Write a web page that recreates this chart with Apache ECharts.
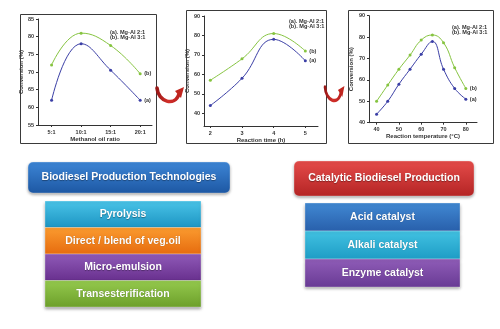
<!DOCTYPE html>
<html>
<head>
<meta charset="utf-8">
<script src="https://cdn.jsdelivr.net/npm/echarts@6/dist/echarts.min.js"></script>
<style>
  html, body { margin: 0; padding: 0; background: #ffffff; }
  #chart { width: 500px; height: 329px; }
</style>
</head>
<body>
<div id="chart"></div>
<script>
// Conversion (%) versus methanol:oil ratio
const ratioX = [5, 10, 15, 20];
const ratioA = [62, 78, 70.5, 62];
const ratioB = [72, 81, 77.5, 69.5];
const ratioXTicks = [5, 10, 15, 20];

// Conversion (%) versus reaction time (h)
const timeX = [2, 3, 4, 5];
const timeA = [44, 58, 78, 67];
const timeB = [57, 68, 81, 72];
const timeXTicks = [2, 3, 4, 5];
const timeYTicks = [40, 50, 60, 70, 80, 90];

// Conversion (%) versus reaction temperature (°C)
const tempX = [40, 45, 50, 55, 60, 65, 70, 75, 80];
const tempA = [44, 50, 58, 65, 72, 78, 65, 56, 51];
const tempB = [50, 57.6, 65, 71.6, 78.6, 81, 77.4, 65.7, 56];
const tempXTicks = [40, 50, 60, 70, 80];

const legendLines = ['(a). Mg-Al 2:1', '(b). Mg-Al 3:1'];
const endTags = ['(a)', '(b)'];

const technologies = ['Pyrolysis', 'Direct / blend of veg.oil', 'Micro-emulsion', 'Transesterification'];
const catalysts = ['Acid catalyst', 'Alkali catalyst', 'Enzyme catalyst'];

const FONT = '"Liberation Sans", Arial, sans-serif';
const BLUE = '#3b3fa6';
const GREEN = '#86c440';
const AXIS = '#333333';

function zip(xs, ys) { return xs.map((x, i) => [x, ys[i]]); }

function xAxisFor(gridIndex, min, max, ticks, fmt, name, gap) {
  return {
    type: 'value', gridIndex, min, max,
    name, nameLocation: 'middle', nameGap: gap,
    nameTextStyle: { fontSize: 6, fontWeight: 'bold', color: '#333', fontFamily: FONT },
    axisLine: { show: true, onZero: false, lineStyle: { color: AXIS, width: 1 } },
    axisTick: { show: true, length: 2, customValues: ticks, lineStyle: { color: AXIS } },
    axisLabel: { customValues: ticks, formatter: fmt, fontSize: 5.5, margin: 4, color: '#333', fontWeight: 'bold', fontFamily: FONT },
    splitLine: { show: false }
  };
}

function yAxisFor(gridIndex, min, max, ticks, gap) {
  return {
    type: 'value', gridIndex, min, max,
    name: 'Conversion (%)', nameLocation: 'middle', nameGap: gap, nameRotate: 90,
    nameTextStyle: { fontSize: 6, fontWeight: 'bold', color: '#333', fontFamily: FONT },
    axisLine: { show: true, onZero: false, lineStyle: { color: AXIS, width: 1 } },
    axisTick: { show: true, length: 2, customValues: ticks, lineStyle: { color: AXIS } },
    axisLabel: { customValues: ticks, fontSize: 5.5, margin: 4, color: '#333', fontWeight: 'bold', fontFamily: FONT },
    splitLine: { show: false }
  };
}

function curve(idx, xs, ys, color, tag) {
  return {
    type: 'line', xAxisIndex: idx, yAxisIndex: idx,
    data: zip(xs, ys), smooth: 0.45,
    symbol: 'circle', symbolSize: 3,
    lineStyle: { color, width: 1 },
    itemStyle: { color },
    endLabel: { show: true, formatter: tag, fontSize: 5.5, fontWeight: 'bold', color: '#333', distance: 4, fontFamily: FONT }
  };
}

function yTicks(min, max, step) {
  const out = [];
  for (let v = min; v <= max; v += step) out.push(v);
  return out;
}

function vGrad(top, bottom) {
  return { type: 'linear', x: 0, y: 0, x2: 0, y2: 1, colorStops: [
    { offset: 0, color: top }, { offset: 1, color: bottom }
  ] };
}

const graphics = [];

// frames around the three small plots
[[20, 14, 136, 129], [186, 10, 140, 133], [348, 10, 145, 133]].forEach(([x, y, w, h]) => {
  graphics.push({ type: 'rect', shape: { x: x + 0.5, y: y + 0.5, width: w, height: h },
    style: { fill: 'none', stroke: '#3a3a3a', lineWidth: 1 }, z: 1 });
});

// legend text inside each plot
[[110, 29], [289, 18], [452, 24]].forEach(([x, y]) => {
  legendLines.forEach((t, i) => {
    graphics.push({ type: 'text', x, y: y + i * 5.5,
      style: { text: t, fontSize: 5.6, fontWeight: 'bold', fill: '#333', fontFamily: FONT, verticalAlign: 'top' }, z: 5 });
  });
});

// curved red arrows linking the plots
function arrow(ox, oy, s) {
  const grad = { type: 'linear', x: 0, y: 0, x2: 1, y2: 0, colorStops: [
    { offset: 0, color: '#8e1212' }, { offset: 0.5, color: '#d2302a' }, { offset: 1, color: '#b61e1e' }
  ] };
  graphics.push({ type: 'bezierCurve', x: ox, y: oy, scaleX: s, scaleY: 1,
    shape: { x1: 0, y1: 0, cpx1: 1, cpy1: 14, cpx2: 18, cpy2: 19, x2: 22, y2: 6 },
    style: { fill: null, stroke: grad, lineWidth: 3.6, lineCap: 'round' }, z: 6 });
  graphics.push({ type: 'polygon', x: ox, y: oy, scaleX: s, scaleY: 1,
    shape: { points: [[27, -1], [18, 3], [24, 10]] },
    style: { fill: '#c0261f' }, z: 6 });
}
arrow(157, 88, 1);
arrow(325, 87, 0.72);

// stacked label boxes
function box(x, y, w, h, top, bottom, label, r) {
  graphics.push({ type: 'rect', shape: { x, y, width: w, height: h, r: r || 0 },
    style: { fill: vGrad(top, bottom), shadowBlur: 3, shadowOffsetY: 1.5, shadowColor: 'rgba(0,0,0,0.35)',
      stroke: 'rgba(255,255,255,0.35)', lineWidth: 0.8 }, z: 3 });
  graphics.push({ type: 'text', x: x + w / 2, y: y + h / 2,
    style: { text: label, fontSize: 10.5, fontWeight: 'bold', fill: '#ffffff', fontFamily: FONT,
      align: 'center', verticalAlign: 'middle', textShadowColor: 'rgba(0,0,0,0.35)', textShadowBlur: 1, textShadowOffsetY: 0.5 }, z: 4 });
}

box(28, 162, 202, 31, '#3d86d6', '#1d57a3', 'Biodiesel Production Technologies', 5);
const techColors = [['#4ac4e8', '#1c94c2'], ['#fb9c30', '#e66b0e'], ['#905ab8', '#68308e'], ['#95ca4e', '#6c9f2a']];
technologies.forEach((t, i) => {
  box(45, 201 + i * 26.5, 156, 26.5, techColors[i][0], techColors[i][1], t, 0);
});

box(294, 161, 180, 35, '#e54c4a', '#b42424', 'Catalytic Biodiesel Production', 5);
const catColors = [['#4189d3', '#285fab'], ['#42c2e2', '#1d9cc5'], ['#905db8', '#683a94']];
catalysts.forEach((t, i) => {
  box(305, 203 + i * 28, 155, 28, catColors[i][0], catColors[i][1], t, 0);
});

const option = {
  animation: false,
  backgroundColor: '#ffffff',
  grid: [
    { left: 38, top: 19, width: 114, height: 106 },
    { left: 204, top: 16, width: 114, height: 110 },
    { left: 369, top: 15.7, width: 108, height: 107 }
  ],
  xAxis: [
    xAxisFor(0, 2.7, 22, ratioXTicks, v => v + ':1', 'Methanol oil ratio', 7),
    xAxisFor(1, 1.8, 5.4, timeXTicks, v => String(v), 'Reaction time (h)', 8),
    xAxisFor(2, 36.6, 85, tempXTicks, v => String(v), 'Reaction temperature (°C)', 10)
  ],
  yAxis: [
    yAxisFor(0, 55, 85, yTicks(55, 85, 5), 10),
    yAxisFor(1, 33.5, 90, timeYTicks, 13),
    yAxisFor(2, 40, 90, yTicks(40, 90, 10), 15)
  ],
  series: [
    curve(0, ratioX, ratioA, BLUE, endTags[0]),
    curve(0, ratioX, ratioB, GREEN, endTags[1]),
    curve(1, timeX, timeA, BLUE, endTags[0]),
    curve(1, timeX, timeB, GREEN, endTags[1]),
    curve(2, tempX, tempA, BLUE, endTags[0]),
    curve(2, tempX, tempB, GREEN, endTags[1])
  ],
  graphic: graphics
};

const chart = echarts.init(document.getElementById('chart'), null, { renderer: 'canvas' });
chart.setOption(option);
</script>
</body>
</html>
